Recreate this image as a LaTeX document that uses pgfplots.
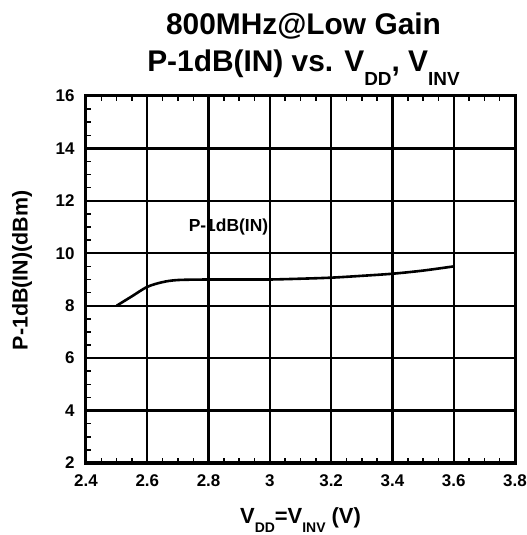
\documentclass[border=0pt]{standalone}
\usepackage{pgfplots}
\pgfplotsset{compat=1.18}
\usepackage{fontspec}
\setmainfont{Liberation Sans}
\newcommand{\lsub}[3]{\raisebox{-#2}{\fontsize{#1}{#1}\selectfont #3}}
\begin{document}
\begin{tikzpicture}
\path[use as bounding box] (-86bp,-72bp) rectangle (441bp,463bp);
\begin{axis}[
  at={(0bp,0bp)}, anchor=south west,
  scale only axis, width=429bp, height=367bp,
  xmin=2.4, xmax=3.8, ymin=2, ymax=16,
  xtick={2.4,2.6,2.8,3.0,3.2,3.4,3.6,3.8},
  ytick={2,4,6,8,10,12,14,16},
  xticklabels={2.4,2.6,2.8,3,3.2,3.4,3.6,3.8},
  minor x tick num=3, minor y tick num=3,
  xtick pos=both, ytick pos=left,
  tick align=inside,
  major tick length=0pt, minor tick length=5bp,
  tick style={black, line width=1.5bp},
  grid=major, major grid style={black, line width=2.2bp},
  axis line style={black, line width=3bp},
  /pgf/number format/assume math mode=true,
  ticklabel style={font=\fontsize{17}{17}\selectfont\bfseries},
  xticklabel style={anchor=base, yshift=-23bp},
  yticklabel style={anchor=east, xshift=-8bp},
  clip=false,
]
\addplot[black, line width=2.6bp, smooth] coordinates {
(2.50,8.00) (2.55,8.36) (2.60,8.72) (2.65,8.90) (2.70,8.98) (2.80,9.00)
(2.90,9.00) (3.00,9.00) (3.10,9.03) (3.20,9.07) (3.30,9.14) (3.40,9.22)
(3.50,9.34) (3.60,9.50)
};
\node[font=\fontsize{17.5}{17.5}\selectfont\bfseries] at (axis cs:2.865,11.0) {P-1dB(IN)};
\node[anchor=base, font=\fontsize{30}{30}\selectfont\bfseries] at ([xshift=3bp,yshift=61bp]rel axis cs:0.5,1) {800MHz@Low Gain};
\node[anchor=base, font=\fontsize{30}{30}\selectfont\bfseries] at ([xshift=3bp,yshift=24bp]rel axis cs:0.5,1) {P-1dB(IN) vs. V\lsub{19}{14bp}{DD}, V\lsub{19}{14bp}{INV}};
\node[anchor=base, font=\fontsize{22}{22}\selectfont\bfseries] at ([yshift=-60bp]rel axis cs:0.5,0) {V\lsub{14}{9bp}{DD}=V\lsub{14}{9bp}{INV} (V)};
\node[rotate=90, font=\fontsize{21.5}{21.5}\selectfont\bfseries] at ([xshift=-64bp,yshift=9bp]rel axis cs:0,0.5) {P-1dB(IN)(dBm)};
\end{axis}
\end{tikzpicture}
\end{document}
